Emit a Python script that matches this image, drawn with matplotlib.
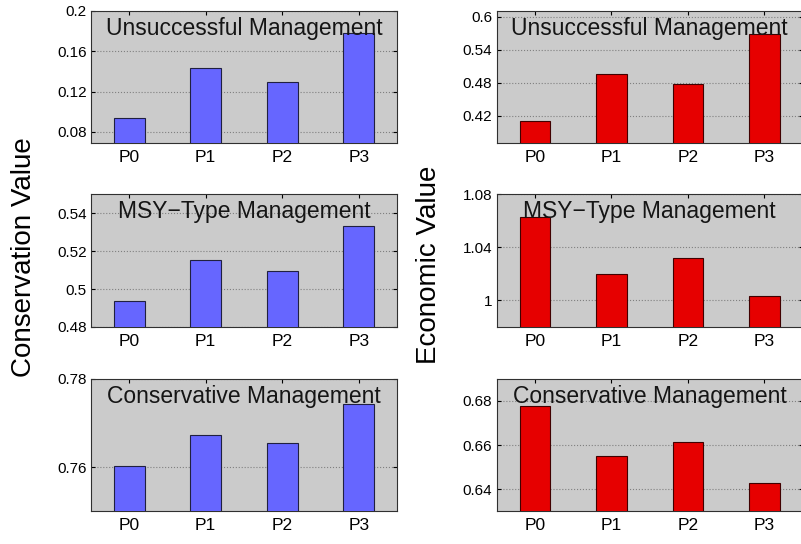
import matplotlib
matplotlib.use("Agg")
import matplotlib.pyplot as plt
from matplotlib.ticker import FormatStrFormatter

plt.rcParams["font.family"] = ["Liberation Sans", "DejaVu Sans"]

# --- данные ---
policies = ["P0", "P1", "P2", "P3"]
scenarios = ["Unsuccessful Management", "MSY\u2212Type Management", "Conservative Management"]

cons_unsuccessful = [0.094, 0.143, 0.129, 0.178]
cons_msy = [0.4938, 0.5154, 0.5096, 0.5333]
cons_conservative = [0.7602, 0.7673, 0.7655, 0.7744]

econ_unsuccessful = [0.410, 0.495, 0.477, 0.568]
econ_msy = [1.0633, 1.020, 1.0323, 1.003]
econ_conservative = [0.6777, 0.655, 0.6615, 0.6427]

cons_ylims = [(0.069, 0.2), (0.48, 0.55), (0.75, 0.78)]
cons_yticks = [[0.08, 0.12, 0.16, 0.2], [0.48, 0.5, 0.52, 0.54], [0.76, 0.78]]
econ_ylims = [(0.37, 0.611), (0.98, 1.08), (0.63, 0.69)]
econ_yticks = [[0.42, 0.48, 0.54, 0.6], [1.0, 1.04, 1.08], [0.64, 0.66, 0.68]]

BLUE = "#6666ff"
RED = "#e60000"
BG = "#cbcbcb"

fig = plt.figure(figsize=(8.01, 5.44), dpi=100)

rows_bottom = [0.737, 0.399, 0.060]
row_h = 0.2435
col_left = [0.1136, 0.62]
col_w = 0.382

columns = [
    ([cons_unsuccessful, cons_msy, cons_conservative], cons_ylims, cons_yticks, BLUE),
    ([econ_unsuccessful, econ_msy, econ_conservative], econ_ylims, econ_yticks, RED),
]

for c, (series, ylims, yticks, color) in enumerate(columns):
    for r in range(3):
        ax = fig.add_axes([col_left[c], rows_bottom[r], col_w, row_h])
        ax.set_facecolor(BG)
        x = range(1, len(policies) + 1)
        ax.bar(x, series[r], width=0.4, color=color, edgecolor="#202040" if c == 0 else "#400000",
               linewidth=0.8, zorder=3)
        ax.set_xlim(0.5, 4.5)
        ax.set_ylim(*ylims[r])
        ax.set_yticks(yticks[r])
        ax.yaxis.set_major_formatter(FormatStrFormatter("%g"))
        ax.set_xticks(list(x))
        ax.set_xticklabels(policies)
        ax.tick_params(axis="x", labelsize=12.5, direction="in", top=True, length=3, pad=5)
        ax.tick_params(axis="y", labelsize=11, direction="in", right=True, length=3, pad=3)
        ax.grid(axis="y", linestyle=":", color="#808080", linewidth=0.8, zorder=1)
        for s in ax.spines.values():
            s.set_color("#303030")
            s.set_linewidth(0.8)
        ax.text(0.5, 0.955, scenarios[r], transform=ax.transAxes, ha="center", va="top",
                fontsize=16.5, color="#151515", zorder=5)

fig.text(0.030, 0.527, "Conservation Value", rotation=90, ha="center", va="center", fontsize=20)
fig.text(0.536, 0.514, "Economic Value", rotation=90, ha="center", va="center", fontsize=20)

fig.savefig("out.png", dpi=100)
